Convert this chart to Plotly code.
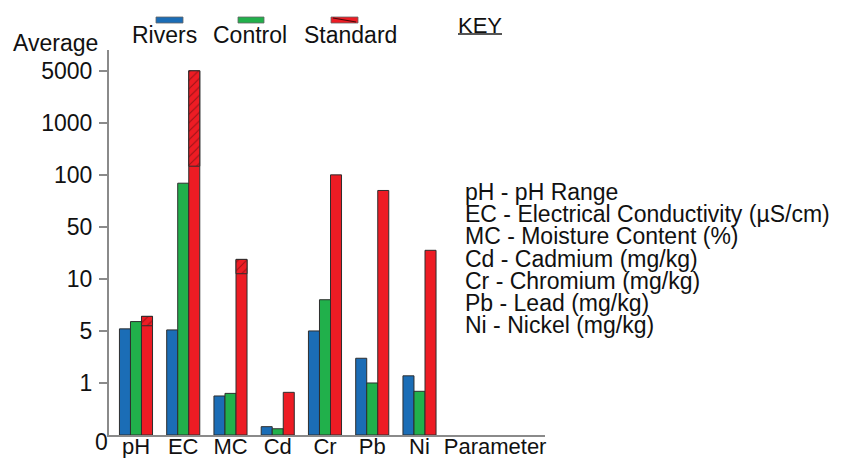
import numpy as np
import plotly.graph_objects as go

# ---------------- data ----------------
categories = ["pH", "EC", "MC", "Cd", "Cr", "Pb", "Ni"]
rivers = [5.2, 5.1, 0.75, 0.16, 5.0, 2.9, 1.55]
control = [5.9, 92, 0.8, 0.12, 8.0, 1.0, 0.84]
standard = [6.4, 5000, 25, 0.82, 100, 85, 32]
# lower edge of the hatched top section of some Standard bars (None = no hatch)
standard_hatch_from = [5.5, 250, 14, None, None, None, None]

tick_values = [0, 1, 5, 10, 50, 100, 1000, 5000]
tick_labels = ["0", "1", "5", "10", "50", "100", "1000", "5000"]
x_axis_title = "Parameter"
y_axis_title = "Average"
series_names = ["Rivers", "Control", "Standard"]
key_title = "KEY"
key_lines = [
    "pH - pH Range",
    "EC - Electrical Conductivity (µS/cm)",
    "MC - Moisture Content (%)",
    "Cd - Cadmium (mg/kg)",
    "Cr - Chromium (mg/kg)",
    "Pb - Lead (mg/kg)",
    "Ni - Nickel (mg/kg)",
]

# ---------------- style ----------------
BLUE = "#1b6db6"
GREEN = "#21b04b"
RED = "#ed1c24"
OUTLINE = "#2e2e2e"
AXIS = "#8a8a8a"
FONT = "Liberation Sans, Arial, sans-serif"
TXT = "#111111"

W, H = 847, 458
L, R, T, B = 109, 302, 50, 23
PW, PH = W - L - R, H - T - B


def px(xp):
    return (xp - L) / PW


def py(yp):
    return (H - B - yp) / PH


# piecewise axis scale: the reference spaces its uneven tick values evenly
tick_pos = np.arange(len(tick_values), dtype=float)


def scale(v):
    return float(np.interp(v, tick_values, tick_pos))


xs = list(range(len(categories)))
line = dict(color=OUTLINE, width=1)

fig = go.Figure()
for name, vals, color, grp in [
    (series_names[0], rivers, BLUE, "r"),
    (series_names[1], control, GREEN, "c"),
    (series_names[2], standard, RED, "s"),
]:
    fig.add_trace(go.Bar(
        x=xs, y=[scale(v) for v in vals], name=name, offsetgroup=grp,
        marker=dict(color=color, line=line),
        customdata=vals, hovertemplate=name + ": %{customdata}<extra></extra>",
        showlegend=False,
    ))

# hatched top section of Standard bars
hx, hbase, hlen = [], [], []
for i, (top, lo) in enumerate(zip(standard, standard_hatch_from)):
    if lo is not None:
        hx.append(i)
        hbase.append(scale(lo))
        hlen.append(scale(top) - scale(lo))
fig.add_trace(go.Bar(
    x=hx, y=hlen, base=hbase, offsetgroup="s", name="Standard",
    marker=dict(color=RED, line=line,
                pattern=dict(shape="/", fgcolor="#4a0808", size=6, solidity=0.18)),
    hoverinfo="skip", showlegend=False,
))

fig.update_layout(
    width=W, height=H,
    margin=dict(l=L, r=R, t=T, b=B, pad=0),
    paper_bgcolor="white", plot_bgcolor="white",
    barmode="group", bargap=0.30, bargroupgap=0,
    font=dict(family=FONT, color=TXT, size=23),
    showlegend=False,
)
fig.update_xaxes(
    range=[-0.571, 8.656], tickvals=xs + [7.6], ticktext=categories + [x_axis_title],
    showline=True, linecolor=AXIS, linewidth=2, ticks="", showgrid=False, zeroline=False,
    tickfont=dict(size=22, color=TXT), automargin=False, ticklabelstandoff=-9,
)
fig.update_yaxes(
    range=[0, 7.4], tickvals=list(tick_pos[1:]), ticktext=tick_labels[1:],
    showline=True, linecolor=AXIS, linewidth=2, ticks="outside", ticklen=8,
    tickcolor=AXIS, tickwidth=1.5, showgrid=False, zeroline=False,
    tickfont=dict(size=23, color=TXT), automargin=False, ticklabelstandoff=2,
)

ann = []
# "0" label sits a little below the baseline in the reference
ann.append(dict(x=px(101), y=py(442), xref="paper", yref="paper", text=tick_labels[0],
                showarrow=False, xanchor="center", yanchor="middle", font=dict(size=23)))
ann.append(dict(x=px(100), y=py(43), xref="paper", yref="paper", text=y_axis_title,
                showarrow=False, xanchor="right", yanchor="middle", font=dict(size=23)))
# legend texts (swatches above)
legend_items = [(164, 156, 183, BLUE), (249.5, 238, 264, GREEN), (350, 331, 358, RED)]
shapes = []
for name, (cx, x0, x1, col) in zip(series_names, legend_items):
    ann.append(dict(x=px(cx), y=py(35), xref="paper", yref="paper", text=name,
                    showarrow=False, xanchor="center", yanchor="middle", font=dict(size=23)))
    shapes.append(dict(type="rect", xref="paper", yref="paper",
                       x0=px(x0), x1=px(x1), y0=py(23), y1=py(17),
                       fillcolor=col, line=dict(color="#666666", width=0.8)))
shapes.append(dict(type="line", xref="paper", yref="paper",
                   x0=px(333), x1=px(356), y0=py(18), y1=py(22),
                   line=dict(color="#4a0808", width=1.2)))
# KEY
ann.append(dict(x=px(480), y=py(25), xref="paper", yref="paper", text=key_title,
                showarrow=False, xanchor="center", yanchor="middle", font=dict(size=22)))
shapes.append(dict(type="line", xref="paper", yref="paper",
                   x0=px(458), x1=px(502), y0=py(34), y1=py(34),
                   line=dict(color="#555555", width=2)))
for i, t in enumerate(key_lines):
    ann.append(dict(x=px(463), y=py(192 + 22.2 * i), xref="paper", yref="paper", text=t,
                    showarrow=False, xanchor="left", yanchor="middle", font=dict(size=23)))

fig.update_layout(annotations=ann, shapes=shapes)
fig.write_html("out.html")
